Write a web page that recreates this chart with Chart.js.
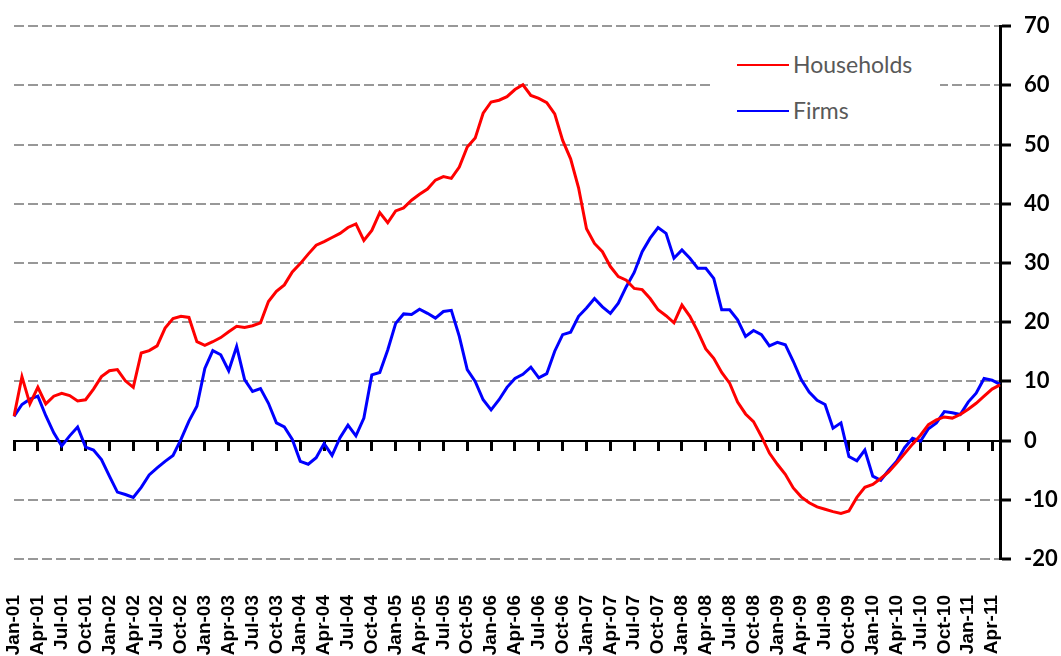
<!DOCTYPE html>
<html>
<head>
<meta charset="utf-8">
<script src="https://cdn.jsdelivr.net/npm/chart.js@4.4.1/dist/chart.umd.min.js"></script>
<style>
  html, body { margin: 0; padding: 0; background: #fff; }
  #wrap { position: relative; width: 1061px; height: 656px; }
  #legend { position: absolute; left: 712px; top: 36px; width: 228px; height: 100px; background: #fff; }
  .key { position: absolute; left: 25px; width: 52px; height: 2px; }
  .name { position: absolute; left: 81px; font: 23px Lato, sans-serif; color: #595959; line-height: 28px; white-space: nowrap; }
</style>
</head>
<body>
<div id="wrap">
  <canvas id="chart" width="1061" height="656"></canvas>
  <div id="legend"></div>
</div>
<script>
// --- Data (monthly, Jan-01 .. May-11) ---
const monthNames = ['Jan', 'Feb', 'Mar', 'Apr', 'May', 'Jun', 'Jul', 'Aug', 'Sep', 'Oct', 'Nov', 'Dec'];
const firstYear = 2001;

const households = [
    4.1, 10.8, 6.2, 9.0, 6.2, 7.5, 8.0, 7.6, 6.7, 6.9, 8.7, 10.8,
    11.8, 12.0, 10.1, 9.0, 14.8, 15.2, 16.0, 19.0, 20.6, 21.0, 20.8, 16.7,
    16.1, 16.7, 17.4, 18.4, 19.3, 19.1, 19.4, 19.9, 23.5, 25.2, 26.3, 28.5,
    29.9, 31.5, 33.0, 33.6, 34.3, 35.0, 36.0, 36.6, 33.8, 35.5, 38.5, 36.8,
    38.8, 39.3, 40.6, 41.6, 42.5, 44.0, 44.6, 44.3, 46.2, 49.6, 51.1, 55.3,
    57.2, 57.5, 58.1, 59.3, 60.1, 58.3, 57.8, 57.1, 55.2, 50.7, 47.6, 42.7,
    35.8, 33.3, 31.9, 29.4, 27.7, 27.1, 25.7, 25.5, 24.0, 22.1, 21.1, 19.9,
    22.9, 21.0, 18.4, 15.5, 13.9, 11.5, 9.7, 6.5, 4.5, 3.2, 0.7, -2.1,
    -4.0, -5.7, -8.0, -9.5, -10.5, -11.2, -11.6, -12.0, -12.3, -11.9, -9.6, -7.9,
    -7.4, -6.4, -5.3, -3.8, -2.2, -0.6, 0.9, 2.7, 3.5, 4.0, 3.8, 4.4,
    5.3, 6.3, 7.5, 8.7, 9.4
];

const firms = [
    4.1, 6.1, 7.0, 7.5, 4.2, 1.3, -0.9, 0.8, 2.3, -1.1, -1.6, -3.2,
    -6.0, -8.7, -9.1, -9.6, -7.9, -5.8, -4.6, -3.5, -2.5, 0.2, 3.3, 5.8,
    12.2, 15.2, 14.5, 11.8, 15.9, 10.3, 8.3, 8.8, 6.3, 3.0, 2.3, 0.2,
    -3.5, -4.0, -2.9, -0.5, -2.5, 0.5, 2.6, 0.8, 3.8, 11.1, 11.5, 15.3,
    19.8, 21.4, 21.3, 22.2, 21.5, 20.7, 21.8, 22.0, 17.6, 12.0, 10.0, 6.9,
    5.2, 6.9, 9.0, 10.5, 11.2, 12.4, 10.6, 11.3, 15.1, 17.9, 18.3, 21.0,
    22.4, 24.0, 22.6, 21.5, 23.2, 26.0, 28.4, 31.9, 34.2, 36.0, 35.0, 30.8,
    32.2, 30.8, 29.1, 29.1, 27.4, 22.1, 22.1, 20.4, 17.6, 18.6, 17.9, 16.0,
    16.6, 16.2, 13.4, 10.3, 8.2, 6.8, 6.1, 2.1, 3.0, -2.7, -3.4, -1.6,
    -6.0, -6.7, -5.0, -3.5, -1.2, 0.4, -0.1, 2.0, 3.0, 4.9, 4.7, 4.4,
    6.5, 8.0, 10.5, 10.2, 9.5
];

const months = households.map((_, i) =>
    monthNames[i % 12] + '-' + String((firstYear + Math.floor(i / 12)) % 100).padStart(2, '0'));

const seriesNames = ['Households', 'Firms'];
const seriesColors = ['#ff0000', '#0000ff'];

// --- Chart ---
Chart.defaults.font.family = '"Liberation Sans", Arial, sans-serif';

const chart = new Chart(document.getElementById('chart'), {
    type: 'line',
    data: {
        labels: months,
        datasets: [households, firms].map((values, i) => ({
            label: seriesNames[i],
            data: values,
            borderColor: seriesColors[i],
            borderWidth: 3,
            pointRadius: 0,
            tension: 0,
            fill: false
        }))
    },
    options: {
        responsive: false,
        animation: false,
        layout: { padding: { left: 14, top: 25, right: 0, bottom: 0 } },
        plugins: { legend: { display: false }, tooltip: { enabled: false } },
        scales: {
            x: {
                type: 'category',
                position: 'bottom',
                offset: false,
                // invisible tick marks only push the rotated labels down
                grid: { display: true, drawOnChartArea: false, drawTicks: true, tickLength: 36, tickColor: 'rgba(0,0,0,0)' },
                border: { display: false },
                ticks: {
                    autoSkip: false,
                    minRotation: 90,
                    maxRotation: 90,
                    padding: 0,
                    color: '#000',
                    font: { size: 19, weight: 'bold' },
                    callback: function (value, index) { return index % 3 === 0 ? this.getLabelForValue(value) : ''; }
                },
                afterFit: (scale) => { scale.height = 97; }
            },
            x0: {
                type: 'category',
                position: { y: 0 },
                offset: false,
                grid: {
                    drawOnChartArea: false,
                    drawTicks: true,
                    tickLength: 9,
                    tickWidth: 3,
                    tickColor: (ctx) => ctx.index % 3 === 0 ? '#000' : 'rgba(0,0,0,0)'
                },
                border: { display: true, color: '#000', width: 2 },
                ticks: { display: false, autoSkip: false }
            },
            y: {
                position: 'right',
                min: -20,
                max: 70,
                grid: {
                    color: (ctx) => ctx.tick && ctx.tick.value === 0 ? 'rgba(0,0,0,0)' : '#989898',
                    lineWidth: 2,
                    drawTicks: true,
                    tickLength: 11,
                    tickWidth: 3,
                    tickColor: '#000'
                },
                border: { display: true, color: '#000', width: 3, dash: [10, 4] },
                ticks: {
                    stepSize: 10,
                    padding: 13,
                    color: '#000',
                    font: { family: 'Lato, sans-serif', size: 22, weight: 'bold' }
                },
                afterFit: (scale) => { scale.width = 61; }
            }
        }
    }
});

// --- Legend (inside the plot, top right) ---
const legendEl = document.getElementById('legend');
chart.data.datasets.forEach((ds, i) => {
    const key = document.createElement('div');
    key.className = 'key';
    key.style.top = (28 + i * 46) + 'px';
    key.style.background = ds.borderColor;
    const name = document.createElement('div');
    name.className = 'name';
    name.style.top = (14 + i * 46) + 'px';
    name.textContent = ds.label;
    legendEl.appendChild(key);
    legendEl.appendChild(name);
});
</script>
</body>
</html>
